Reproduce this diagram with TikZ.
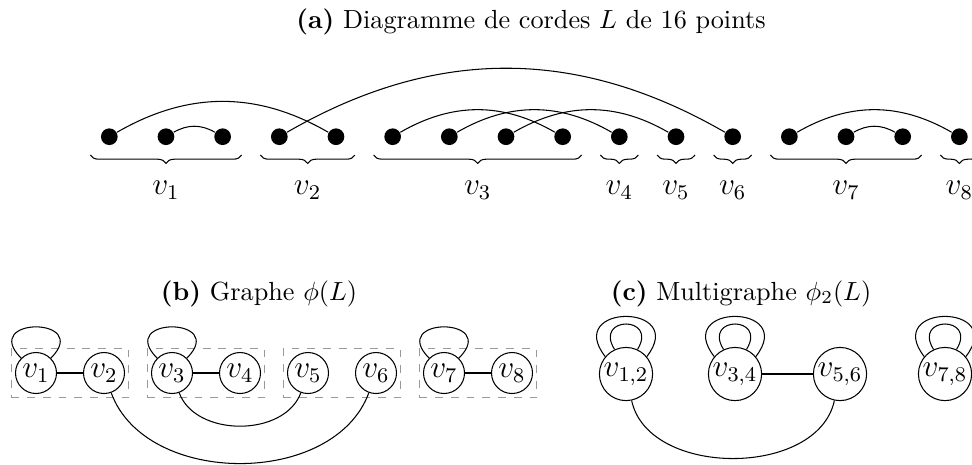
\documentclass[tikz,border=0pt]{standalone}
\usetikzlibrary{decorations.pathreplacing,fit,calc}
\begin{document}
\begin{tikzpicture}[x=0.3817pt,y=0.3817pt,
 dot/.style={circle,fill=black,inner sep=0pt,minimum size=6.37pt},
 chord/.style={bend left=30},
 bracedeco/.style={decorate,decoration={brace,mirror,amplitude=3.2pt}},
 lab/.style={anchor=base,font=\large},
 vb/.style={circle,draw,inner sep=0.5pt,minimum size=15.65pt,font=\large},
 vc/.style={circle,draw,inner sep=0pt,minimum size=20.3pt,font=\large},
 grp/.style={draw=gray!80,dashed,inner sep=1.34pt},
 ttl/.style={anchor=base}]
\useasboundingbox (0,0) rectangle (972,-464);
% (a)
\node[ttl] (ta) at (531,-28) {\textbf{(a)} Diagramme de cordes $L$ de 16 points};
\foreach \i in {1,...,16} \node[dot] (p\i) at ({109.3+56.67*(\i-1)},-136.7) {};
\draw (p1) to[chord] (p5);
\draw (p2) to[chord] (p3);
\draw (p4) to[chord] (p12);
\draw (p6) to[chord] (p9);
\draw (p7) to[chord] (p10);
\draw (p8) to[chord] (p11);
\draw (p13) to[chord] (p16);
\draw (p14) to[chord] (p15);
\foreach \a/\b/\n in {1/3/1,4/5/2,6/9/3,10/10/4,11/11/5,12/12/6,13/15/7,16/16/8} {
  \draw[bracedeco] ($(p\a)+(-19,-18.3)$) -- ($(p\b)+(19,-18.3)$);
  \node[lab] (l\n) at ($(p\a)!0.5!(p\b)+(0,-58)$) {$v_{\n}$};
}
% (b)
\node[ttl] (tb) at (259,-300) {\textbf{(b)} Graphe $\phi(L)$};
\foreach \i in {1,...,8} \node[vb] (b\i) at ({36+68*(\i-1)},-373) {$v_{\i}$};
\node[grp,fit=(b1)(b2)] (g1) {};
\node[grp,fit=(b3)(b4)] (g2) {};
\node[grp,fit=(b5)(b6)] (g3) {};
\node[grp,fit=(b7)(b8)] (g4) {};
\draw (b1) -- (b2);
\draw (b3) -- (b4);
\draw (b7) -- (b8);
\draw (b3) to[bend right=70] (b5);
\draw (b2) to[bend right=70] (b6);
\foreach \i in {1,3,7} \draw (b\i.135) .. controls +(135:59) and +(45:59) .. (b\i.45);
% (c)
\node[ttl] (tc) at (741,-300) {\textbf{(c)} Multigraphe $\phi_2(L)$};
\node[vc] (c1) at (626,-374) {$v_{1,2}$};
\node[vc] (c2) at (735,-374) {$v_{3,4}$};
\node[vc] (c3) at (840,-374) {$v_{5,6}$};
\node[vc] (c4) at (945,-374) {$v_{7,8}$};
\draw (c2) -- (c3);
\draw (c1) to[bend right=78] (c3);
\foreach \c in {c1,c2,c4} {
  \draw (\c.140) .. controls +(128:68) and +(52:68) .. (\c.40);
  \draw (\c.115) .. controls +(122:40) and +(58:40) .. (\c.65);
}
\end{tikzpicture}
\end{document}
